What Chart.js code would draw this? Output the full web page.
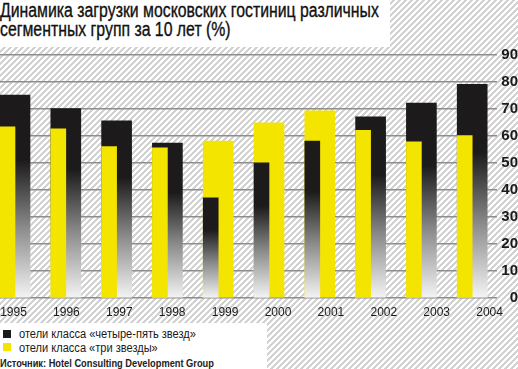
<!DOCTYPE html>
<html><head><meta charset="utf-8">
<script src="https://cdn.jsdelivr.net/npm/chart.js@4/dist/chart.umd.min.js"></script>
<style>
html,body{margin:0;padding:0;}
body{width:518px;height:369px;position:relative;overflow:hidden;
background:repeating-linear-gradient(135deg,#ffffff 0px,#ffffff 2.12px,#d2d2d2 2.12px,#d2d2d2 4.24px);}
#title{position:absolute;left:0;top:0;width:390px;height:47px;background:#fff;}
#legend{position:absolute;left:0;top:323px;width:267px;height:46px;background:#fff;}
.t{position:absolute;left:0;white-space:nowrap;transform-origin:0 0;font-family:'Liberation Sans',Arial,sans-serif;color:#1a1a1a;line-height:1;}
.ttl{font-size:20px;font-family:'Liberation Sans Narrow','Liberation Sans',Arial,sans-serif;color:#111;-webkit-text-stroke:0.35px #111;}
.sw{position:absolute;width:8px;height:8px;}
canvas{position:absolute;left:0;top:0;}
</style></head>
<body>
<div id="title">
  <div class="t ttl" id="t1" style="top:0px;">Динамика загрузки московских гостиниц различных</div>
  <div class="t ttl" id="t2" style="top:19px;">сегментных групп за 10 лет (%)</div>
</div>
<div id="legend">
  <div class="sw" style="left:3px;top:7px;background:#1c1a1b;"></div>
  <div class="t" id="l1" style="font-size:12px;left:19px;top:5px;">отели класса «четыре-пять звезд»</div>
  <div class="sw" style="left:3px;top:20px;background:#f4e500;"></div>
  <div class="t" id="l2" style="font-size:12px;left:19px;top:18.5px;">отели класса «три звезды»</div>
  <div class="t" id="l3" style="font-size:11px;left:0;top:35px;font-weight:bold;color:#222;">Источник: Hotel Consulting Development Group</div>
</div>
<canvas id="c" width="518" height="369"></canvas>
<script>
// ---- data ----
const years = ['1995','1996','1997','1998','1999','2000','2001','2002','2003','2004'];
const fourFiveStar = [75, 70, 65.5, 57.3, 37, 50, 58, 67, 72, 79];   // black
const threeStar    = [63.3, 62.5, 56, 55.5, 58, 64.7, 69.2, 62, 57.7, 60]; // yellow
const yTicks = [0,10,20,30,40,50,60,70,80,90];

// fit text widths
function fit(id, w){ const el=document.getElementById(id); el.style.transform='scaleX('+(w/el.offsetWidth)+')'; }
const s1 = 379/document.getElementById('t1').offsetWidth;
document.getElementById('t1').style.transform='scaleX('+s1+')';
document.getElementById('t2').style.transform='scaleX('+s1+')';
fit('l1',177); fit('l2',139); fit('l3',214);

const YELLOW = '#f4e500', BLACK = '#1c1a1b';
function blackFill(ctx, value){
  const chart = ctx.chart; const y = chart.scales.y;
  if(!y || !chart.chartArea) return BLACK;
  const y0 = y.getPixelForValue(0), y1 = y.getPixelForValue(value);
  const g = chart.ctx.createLinearGradient(0, y0, 0, y1);
  g.addColorStop(0, '#f4f4f4');
  g.addColorStop(0.35, '#8a8a8a');
  g.addColorStop(0.68, BLACK);
  g.addColorStop(1, BLACK);
  return g;
}
const backVals  = years.map((_, i) => Math.max(fourFiveStar[i], threeStar[i]));
const frontVals = years.map((_, i) => Math.min(fourFiveStar[i], threeStar[i]));
const backIsBlack = years.map((_, i) => fourFiveStar[i] >= threeStar[i]);

const noPad = (a)=>{ a.paddingLeft = 0; a.paddingRight = 0; a.paddingTop = 0; a.paddingBottom = 0; };

const chart = new Chart(document.getElementById('c'), {
  type: 'bar',
  data: {
    datasets: [
      { label:'front', data: frontVals.map((v,i)=>({x:i,y:v})), barThickness:15, xAxisID:'x',
        backgroundColor: (ctx)=> backIsBlack[ctx.dataIndex] ? YELLOW : blackFill(ctx, frontVals[ctx.dataIndex]) },
      { label:'dummy', data: years.map((_,i)=>({x:i,y:null})), barThickness:15, xAxisID:'x' },
      { label:'back', data: backVals.map((v,i)=>({x:i,y:v})), barThickness:30, grouped:false, xAxisID:'x',
        backgroundColor: (ctx)=> backIsBlack[ctx.dataIndex] ? blackFill(ctx, backVals[ctx.dataIndex]) : YELLOW }
    ]
  },
  options: {
    responsive:false, animation:false, devicePixelRatio:1,
    layout:{ padding:{ top:54.5, left:0, right:0, bottom:0 } },
    plugins:{ legend:{display:false}, tooltip:{enabled:false} },
    scales:{
      x:{ type:'linear', display:false, offset:false, min:-15/50.8, max:(497-15)/50.8, afterFit:noPad },
      xl:{ type:'linear', position:'bottom', offset:false, min:-13.5/52.9, max:(497-13.5)/52.9,
        afterBuildTicks:(a)=>{ a.ticks = years.map((_,i)=>({value:i})); },
        afterFit:(a)=>{ a.height = 71; noPad(a); },
        grid:{display:false, drawTicks:false}, border:{display:false},
        ticks:{ autoSkip:false, maxRotation:0, padding:7, color:'#1a1a1a',
          font:{family:"'Liberation Sans', Arial, sans-serif", size:12},
          callback:(v)=> years[v] } },
      y:{ position:'right', min:0, max:90, z:1,
        afterBuildTicks:(a)=>{ a.ticks = yTicks.map(v=>({value:v})); },
        afterFit:(a)=>{ a.width = 21; },
        grid:{ color:'#8e8e8e', lineWidth:1.5, drawTicks:false },
        border:{display:false},
        ticks:{ padding:4, crossAlign:'far', color:'#1a1a1a',
          font:{family:"'Liberation Sans Narrow','Liberation Sans', Arial, sans-serif", size:15, weight:'bold'} } }
    }
  }
});
</script>
</body></html>
